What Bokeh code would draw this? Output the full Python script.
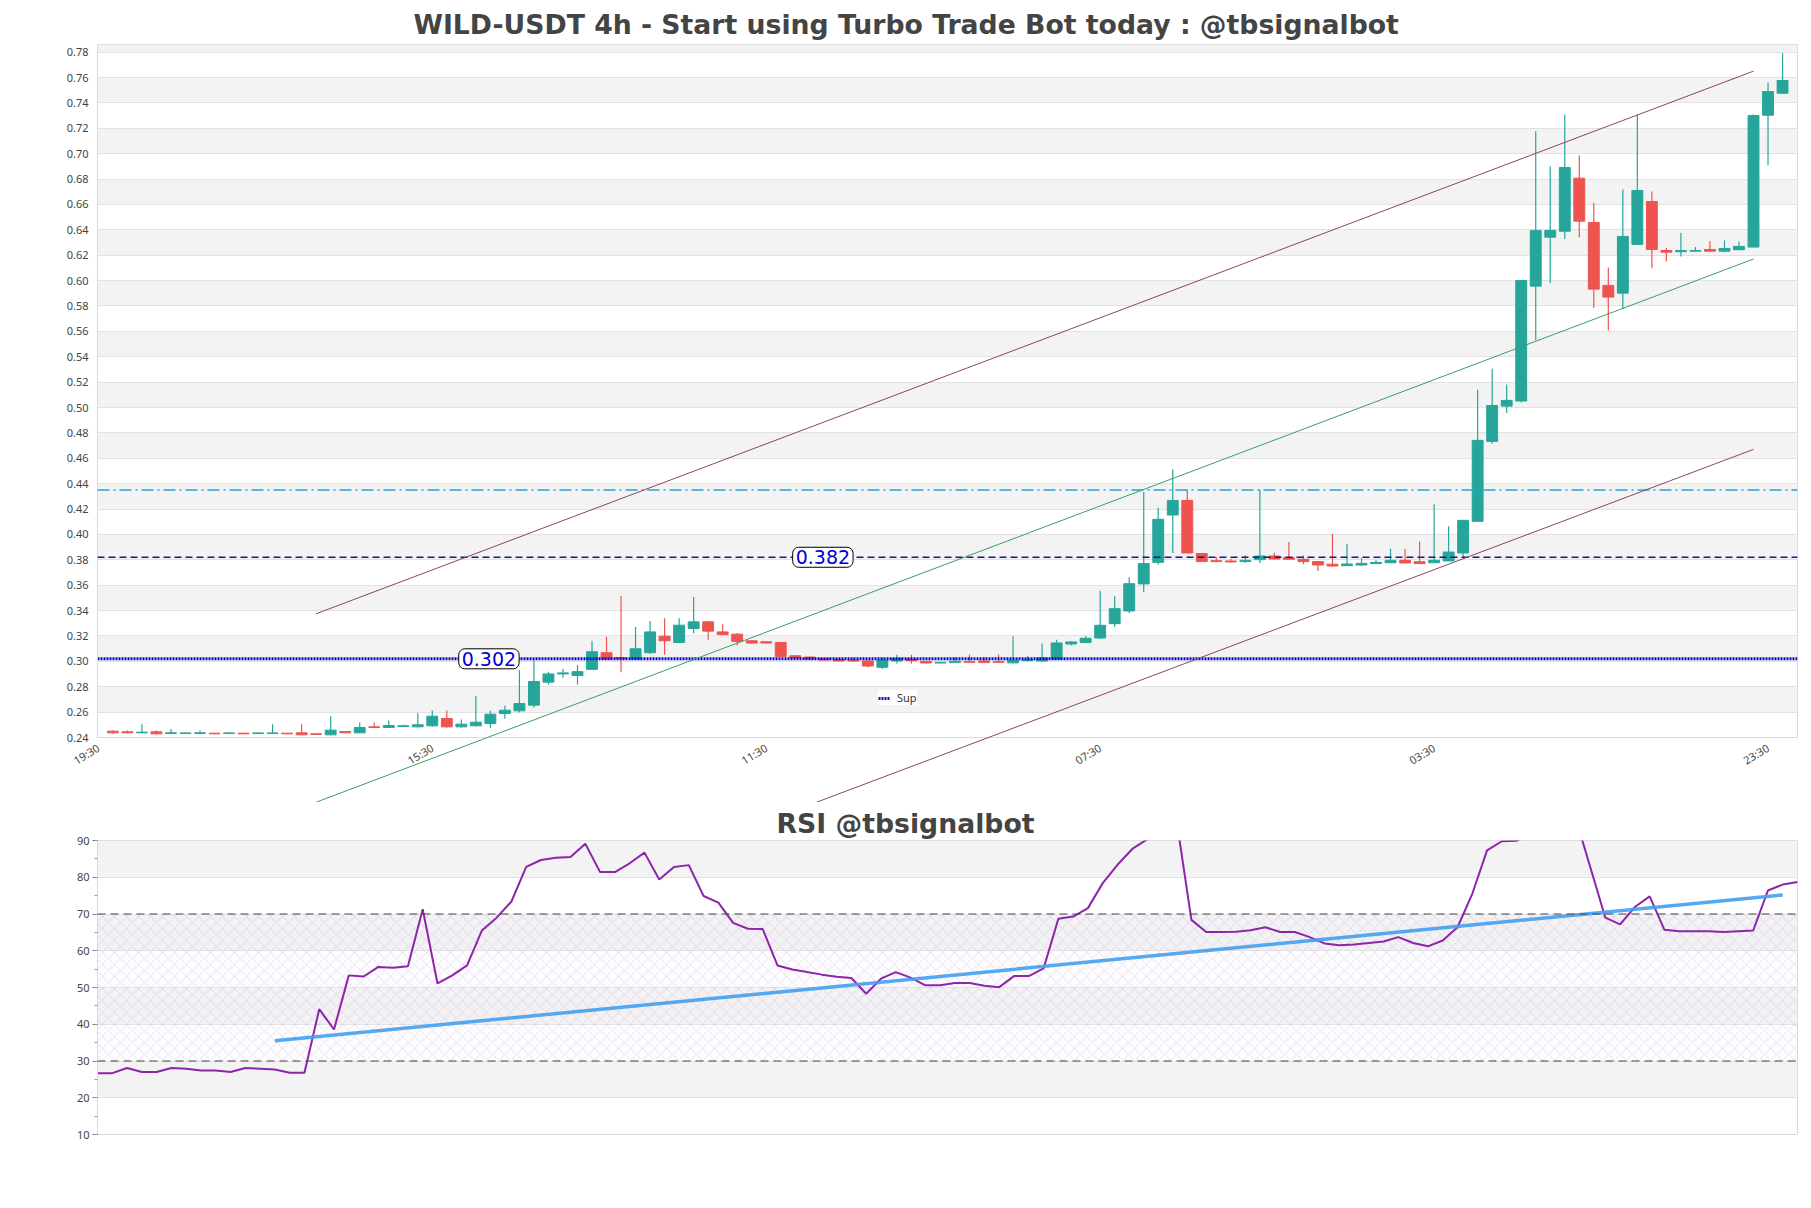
import numpy as np
from bokeh.plotting import figure
from bokeh.models import (ColumnDataSource, Span, Label, BoxAnnotation, FixedTicker,
                          SingleIntervalTicker, Legend, LegendItem, Range1d, NumeralTickFormatter)
from bokeh.layouts import column
from bokeh.embed import file_html
from bokeh.resources import INLINE

# ---------------- data ----------------
opens = [.2450, .2445, .2437, .2445, .2432, .2432, .2432, .2434, .2432, .2434,
         .2432, .2432, .2434, .2437, .2429, .2421, .2447, .2437, .2484, .2479,
         .2487, .2484, .2492, .2550, .2484, .2492, .2510, .2589, .2610, .2655,
         .2836, .2901, .2888, .2937, .3068, .3029, .3016, .3068, .3198, .3149,
         .3258, .3311, .3232, .3214, .3162, .3154, .3149, .3044, .3034, .3023,
         .3016, .3010, .3003, .2953, .3003, .3018, .3000, .2987, .2990, .2998,
         .3003, .2998, .2988, .3006, .3003, .3016, .3137, .3148, .3184, .3297,
         .3397, .3610, .3780, .4153, .4268, .3849, .3793, .3791, .3786, .3801,
         .3830, .3817, .3804, .3786, .3765, .3754, .3759, .3770, .3777, .3796,
         .3785, .3777, .3791, .3854, .4103, .4733, .5011, .5051, .5956, .6342,
         .6389, .6807, .6458, .5962, .5901, .6285, .6623, .6237, .6227, .6232,
         .6245, .6232, .6243, .6264, .7303, .7476]
highs = [.2455, .2455, .2505, .2455, .2466, .2438, .2455, .2436, .2442, .2436,
         .2437, .2505, .2436, .2505, .2434, .2568, .2450, .2518, .2518, .2534,
         .2500, .2592, .2613, .2613, .2542, .2726, .2610, .2652, .2930, .3009,
         .2919, .2940, .2971, .3162, .3193, .3514, .3271, .3318, .3339, .3339,
         .3506, .3318, .3292, .3224, .3164, .3156, .3152, .3046, .3036, .3025,
         .3018, .3026, .3005, .3031, .3052, .3052, .3002, .2995, .3035, .3053,
         .3035, .3053, .3198, .3040, .3140, .3171, .3158, .3200, .3557, .3512,
         .3662, .4334, .4211, .4513, .4353, .3851, .3822, .3809, .3835, .4353,
         .3856, .3940, .3835, .3788, .4006, .3927, .3814, .3796, .3888, .3888,
         .3945, .4237, .4064, .4113, .5140, .5305, .5182, .6005, .7177, .6899,
         .7308, .6985, .6613, .6103, .6718, .7308, .6702, .6258, .6374, .6264,
         .6311, .6316, .6308, .7308, .7560, .7791]
lows = [.2429, .2431, .2434, .2424, .2429, .2431, .2430, .2428, .2430, .2428,
        .2430, .2430, .2428, .2420, .2421, .2418, .2437, .2434, .2476, .2476,
        .2485, .2481, .2484, .2476, .2479, .2487, .2476, .2547, .2597, .2636,
        .2817, .2870, .2817, .2932, .3016, .2914, .3016, .3057, .3052, .3149,
        .3219, .3170, .3211, .3125, .3142, .3142, .3037, .3024, .3016, .3008,
        .3001, .2995, .2953, .2940, .2984, .2984, .2985, .2985, .2987, .2990,
        .2988, .2990, .2985, .2999, .3000, .3014, .3124, .3148, .3177, .3271,
        .3381, .3547, .3764, .3854, .3854, .3786, .3784, .3778, .3775, .3775,
        .3804, .3802, .3765, .3712, .3744, .3752, .3749, .3768, .3775, .3770,
        .3768, .3775, .3789, .3814, .4098, .4715, .4956, .5040, .5529, .5980,
        .6327, .6342, .5783, .5607, .5775, .6283, .6098, .6153, .6190, .6230,
        .6230, .6224, .6241, .6262, .6909, .7474]
closes = [.2437, .2437, .2442, .2429, .2437, .2436, .2437, .2429, .2436, .2429,
          .2436, .2436, .2429, .2421, .2424, .2458, .2437, .2479, .2479, .2495,
          .2492, .2500, .2568, .2484, .2505, .2521, .2584, .2615, .2668, .2841,
          .2901, .2909, .2919, .3076, .3016, .3021, .3099, .3232, .3162, .3285,
          .3311, .3238, .3211, .3157, .3144, .3144, .3039, .3026, .3018, .3010,
          .3003, .3003, .2963, .3010, .3023, .3005, .2987, .2992, .3001, .2993,
          .2990, .2993, .3008, .3014, .3027, .3145, .3153, .3182, .3284, .3415,
          .3612, .3770, .4119, .4268, .3854, .3786, .3786, .3783, .3796, .3830,
          .3806, .3804, .3786, .3759, .3751, .3767, .3772, .3780, .3796, .3775,
          .3770, .3796, .3861, .4111, .4741, .5016, .5056, .6001, .6395, .6395,
          .6891, .6468, .5933, .5870, .6348, .6710, .6245, .6224, .6237, .6237,
          .6232, .6253, .6269, .7300, .7489, .7576]
rsi = [26.7, 26.7, 28.1, 27.0, 27.0, 28.1, 27.9, 27.4, 27.4, 27.0,
       28.1, 27.9, 27.7, 26.8, 26.8, 44.1, 38.6, 53.3, 53.0, 55.6,
       55.4, 55.8, 71.3, 51.1, 53.3, 56.0, 65.5, 69.0, 73.4, 82.8,
       84.7, 85.3, 85.5, 89.1, 81.4, 81.4, 83.8, 86.7, 79.4, 82.8,
       83.3, 74.9, 73.1, 67.6, 66.0, 65.9, 56.0, 54.9, 54.2, 53.5,
       52.9, 52.6, 48.3, 52.4, 54.2, 52.7, 50.6, 50.6, 51.2, 51.2,
       50.5, 50.1, 53.1, 53.1, 55.2, 68.7, 69.3, 71.6, 78.4, 83.4,
       87.7, 90.3, 94.0, 95.4, 68.4, 65.1, 65.1, 65.2, 65.6, 66.4,
       65.1, 65.1, 63.7, 62.0, 61.5, 61.7, 62.1, 62.5, 63.7, 62.1,
       61.2, 62.8, 66.4, 75.5, 87.3, 89.8, 89.9, 92.0, 94.0, 95.0,
       96.0, 82.5, 69.0, 67.2, 71.9, 74.8, 65.7, 65.3, 65.3, 65.3,
       65.1, 65.3, 65.5, 76.4, 78.0, 78.7]

x_tick_idx = [-1, 22, 45, 68, 91, 114]
x_tick_labels = ["19:30", "15:30", "11:30", "07:30", "03:30", "23:30"]

sup_level = 0.302
fib_level = 0.382
res_level = 0.435

chan_x0 = [14, 14, 48]
chan_y0 = [0.3375, 0.189, 0.187]
chan_x1 = [113, 113, 113]
chan_y1 = [0.765, 0.617, 0.467]
chan_colors = ["#8e4466", "#3aa060", "#8e4466"]

rsi_trend_x = [12, 114]
rsi_trend_y = [35.5, 75.2]
rsi_low, rsi_high = 30, 70

title_text = "WILD-USDT 4h - Start using Turbo Trade Bot today : @tbsignalbot"
rsi_title_text = "RSI @tbsignalbot"

# ---------------- styling helpers ----------------
TITLE_COLOR = "#444444"
TICK_COLOR = "#444444"
GRID_COLOR = "#e2e2e2"
BAND_COLOR = "#f3f3f3"
OUTLINE = "#d9d9d9"
UP = "#26a69a"
DOWN = "#ef5350"

n = len(opens)
idx = list(range(n))
colors = [UP if c >= o else DOWN for o, c in zip(opens, closes)]
tops = [max(o, c) for o, c in zip(opens, closes)]
bottoms = [min(o, c) for o, c in zip(opens, closes)]
src = ColumnDataSource(dict(x=idx, high=highs, low=lows, top=tops, bottom=bottoms, color=colors))


def style_title(p, text, offset, standoff):
    p.title.text = text
    p.title.text_font = "DejaVu Sans"
    p.title.text_font_style = "bold"
    p.title.text_font_size = "26.7px"
    p.title.text_color = TITLE_COLOR
    p.title.align = "left"
    p.title.offset = offset
    p.title.standoff = standoff


# ---------------- main chart ----------------
p1 = figure(width=1811, height=802, x_range=Range1d(-1.06, 116.03), y_range=Range1d(0.24, 0.786),
            output_backend="svg", toolbar_location=None,
            min_border_left=97, min_border_right=14, min_border_top=44, min_border_bottom=65)
style_title(p1, title_text, 316, 9)
p1.outline_line_color = OUTLINE
p1.background_fill_color = "white"
p1.border_fill_color = "white"

p1.xgrid.visible = False
p1.ygrid.grid_line_color = GRID_COLOR
p1.ygrid.band_fill_color = BAND_COLOR
p1.ygrid.band_fill_alpha = 1.0

p1.yaxis.ticker = SingleIntervalTicker(interval=0.02, num_minor_ticks=0)
p1.yaxis.formatter = NumeralTickFormatter(format="0.00")
p1.xaxis.ticker = FixedTicker(ticks=x_tick_idx)
p1.xaxis.major_label_overrides = {t: l for t, l in zip(x_tick_idx, x_tick_labels)}
p1.xaxis.major_label_orientation = 0.55
for ax in (p1.xaxis, p1.yaxis):
    ax.axis_line_color = OUTLINE
    ax.major_tick_line_color = None
    ax.minor_tick_line_color = None
    ax.major_label_text_font = "Noto Sans"
    ax.major_label_text_font_size = "11px"
    ax.major_label_text_color = TICK_COLOR
    ax.major_label_standoff = 3

p1.segment(x0="x", y0="low", x1="x", y1="high", line_color="color", line_width=1.2, source=src)
p1.vbar(x="x", width=0.75, top="top", bottom="bottom", fill_color="color", line_color="color",
        line_width=1, source=src)

# trend channel lines (overlay level so they run past the frame like the original)
chan_src = ColumnDataSource(dict(x0=chan_x0, y0=chan_y0, x1=chan_x1, y1=chan_y1, color=chan_colors))
p1.segment(x0="x0", y0="y0", x1="x1", y1="y1", line_color="color", line_width=1,
           source=chan_src, level="overlay")

p1.add_layout(Span(location=res_level, dimension="width", line_color="#29a3d6",
                   line_dash="12 4 2 4", line_width=1.3))
p1.add_layout(Span(location=fib_level, dimension="width", line_color="#16168f",
                   line_dash="7 4", line_width=1.6))
sup_r = p1.line(x=[p1.x_range.start, p1.x_range.end], y=[sup_level, sup_level],
                line_color="#0a0ac8", line_dash="2 1", line_width=3)

for lx, lv in ((25.9, sup_level), (48.9, fib_level)):
    p1.add_layout(Label(x=lx, y=lv, text=f"{lv:.3f}", text_align="center", text_baseline="middle",
                        text_color="#0000dd", text_font="DejaVu Sans", text_font_size="19px",
                        background_fill_color="white", border_line_color="black",
                        border_line_width=1, border_radius=6, padding=3))

legend = Legend(items=[LegendItem(label="Sup", renderers=[sup_r])], location=(781, 32),
                background_fill_color="white", background_fill_alpha=1, border_line_color=None,
                label_text_font="Noto Sans", label_text_font_size="11px", label_text_color="#333",
                glyph_width=12, glyph_height=10, padding=4, margin=0, label_standoff=7,
                label_height=12)
p1.add_layout(legend)

# ---------------- RSI chart ----------------
p2 = figure(width=1811, height=403, x_range=Range1d(0, n - 1), y_range=Range1d(10, 90),
            output_backend="svg", toolbar_location=None,
            min_border_left=97, min_border_right=14, min_border_top=38, min_border_bottom=71)
style_title(p2, rsi_title_text, 679, 3)
p2.outline_line_color = OUTLINE
p2.xaxis.visible = False
p2.xgrid.visible = False
p2.ygrid.grid_line_color = GRID_COLOR
p2.ygrid.band_fill_color = BAND_COLOR
p2.ygrid.band_fill_alpha = 1.0
p2.yaxis.ticker = SingleIntervalTicker(interval=10, num_minor_ticks=2)
p2.yaxis.axis_line_color = OUTLINE
p2.yaxis.major_tick_line_color = "#777"
p2.yaxis.minor_tick_line_color = "#999"
p2.yaxis.major_tick_out = 5
p2.yaxis.major_tick_in = 0
p2.yaxis.minor_tick_out = 3
p2.yaxis.minor_tick_in = 0
p2.yaxis.major_label_text_font = "Noto Sans"
p2.yaxis.major_label_text_font_size = "11px"
p2.yaxis.major_label_text_color = TICK_COLOR
p2.yaxis.major_label_standoff = 3

p2.add_layout(BoxAnnotation(bottom=rsi_low, top=rsi_high, level="underlay", fill_color="#efe6f4",
                            fill_alpha=0.12, line_color=None, hatch_pattern="diagonal_cross",
                            hatch_color="#b8a8c6", hatch_alpha=0.5, hatch_scale=12, hatch_weight=0.6))
for lv in (rsi_low, rsi_high):
    p2.add_layout(Span(location=lv, dimension="width", line_color="#444444",
                       line_dash="8 5", line_width=1.2))
p2.line(x=idx, y=rsi, line_color="#8e24aa", line_width=2)
p2.line(x=rsi_trend_x, y=rsi_trend_y, line_color="#42a0f0", line_width=3.5, line_alpha=0.9)

layout = column(p1, p2)
open("out.html", "w").write(file_html(layout, INLINE))
